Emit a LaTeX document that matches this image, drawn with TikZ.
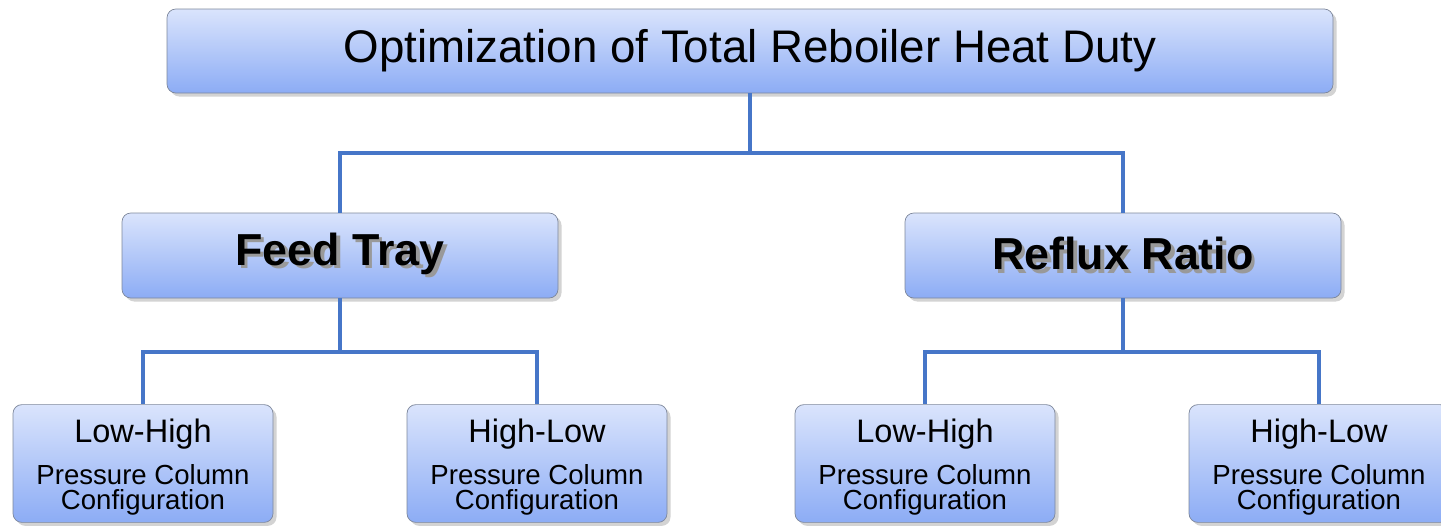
\documentclass[tikz,border=0pt]{standalone}
\usepackage{xcolor}
\usepackage{fontspec}
\setmainfont{Liberation Sans}
\usetikzlibrary{shadows}

\definecolor{boxtop}{RGB}{218,228,252}
\definecolor{boxbottom}{RGB}{140,172,245}
\definecolor{boxline}{RGB}{125,135,155}
\definecolor{linkblue}{RGB}{70,118,200}

\newcommand{\shadowed}[1]{\makebox[0pt][l]{\hspace{2pt}\raisebox{-2pt}{\color{black!40}#1}}#1}
\newcommand{\configtext}[1]{\rule{0pt}{18pt}#1\\[2pt]{\fontsize{15.7}{13.6}\selectfont\begin{tabular}[t]{@{}c@{}}Pressure Column\\[-1.2pt]Configuration\end{tabular}}}

\begin{document}
\begin{tikzpicture}
			\tikzstyle{goal} = [draw=boxline, rounded corners=5pt, top color=boxtop, bottom color=boxbottom, minimum width=23.32cm, minimum height=1.68cm, drop shadow={opacity=0.35, shadow xshift=2pt, shadow yshift=-2pt}, font=\fontsize{26}{28}\selectfont]
			\tikzstyle{factor} = [goal, minimum width=8.72cm, minimum height=1.7cm, font=\fontsize{25.5}{28}\selectfont\bfseries]
			\tikzstyle{config} = [goal, minimum width=5.2cm, minimum height=2.34cm, align=center, font=\fontsize{18.5}{22}\selectfont]
			\tikzset{link/.style = {draw=linkblue, line width=2.3pt}}
			
			\useasboundingbox (0,0) rectangle (28.82,-10.5);
			
			\node[goal](duty) at (15.0,-1.02) {Optimization of Total Reboiler Heat Duty};
			
			\node[factor](feed) at (6.8,-5.11) {\shadowed{Feed Tray}};
			\node[factor](reflux) at (22.46,-5.11) {\shadowed{Reflux Ratio}};
			\draw[link](duty.south) -- ++(0,-1.2) -| (feed.north);
			\draw[link](duty.south) -- ++(0,-1.2) -| (reflux.north);
			
			\node[config](feedlh) at (2.86,-9.27) {\configtext{Low-High}};
			\node[config](feedhl) at (10.74,-9.27) {\configtext{High-Low}};
			\draw[link](feed.south) -- ++(0,-1.08) -| (feedlh.north);
			\draw[link](feed.south) -- ++(0,-1.08) -| (feedhl.north);
			
			\node[config](refluxlh) at (18.5,-9.27) {\configtext{Low-High}};
			\node[config](refluxhl) at (26.38,-9.27) {\configtext{High-Low}};
			\draw[link](reflux.south) -- ++(0,-1.08) -| (refluxlh.north);
			\draw[link](reflux.south) -- ++(0,-1.08) -| (refluxhl.north);
			
			\end{tikzpicture}
\end{document}
